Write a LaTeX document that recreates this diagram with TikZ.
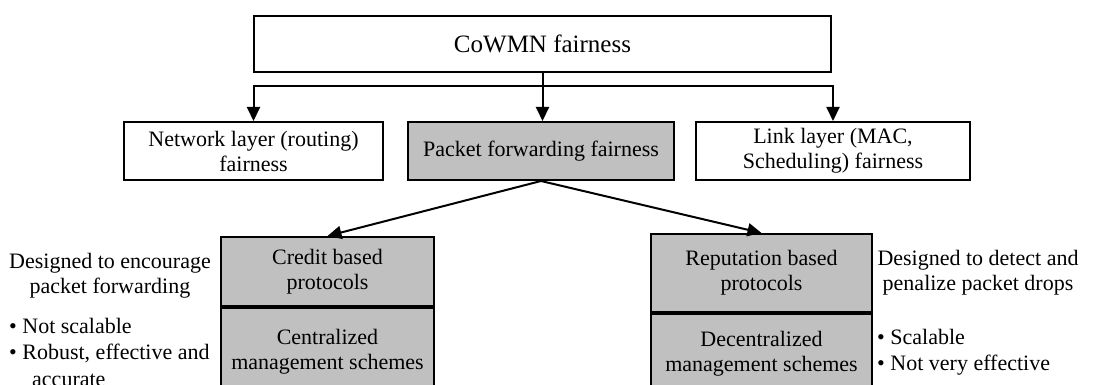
\documentclass[tikz,border=0pt]{standalone}
\usepackage{fontspec}
\setmainfont{Liberation Serif}
\usetikzlibrary{arrows.meta}
\definecolor{boxgray}{HTML}{C0C0C0}
\begin{document}
\begin{tikzpicture}[x=1pt,y=-1pt,
  box/.style={draw=black, line width=2pt, align=center, inner sep=0pt, font=\fontsize{22}{25}\selectfont},
  gbox/.style={box, fill=boxgray},
  note/.style={align=center, inner sep=0pt, font=\fontsize{22}{25}\selectfont},
  conn/.style={line width=2pt},
  arr/.style={conn, -{Triangle[length=14pt,width=13pt]}},
]
\useasboundingbox (0,0) rectangle (1094,385);

\node[box, minimum width=577pt, minimum height=56pt, font=\fontsize{25}{30}\selectfont] (top) at (542.5,44) {CoWMN fairness};
\node[box, minimum width=259pt, minimum height=58pt] (net) at (253.5,151) {Network layer (routing)\\fairness};
\node[gbox, minimum width=266pt, minimum height=58pt] (pkt) at (541,151) {Packet forwarding fairness};
\node[box, minimum width=274pt, minimum height=58pt] (link) at (833,151) {Link layer (MAC,\\Scheduling) fairness};

\node[gbox, minimum width=213pt, minimum height=69pt, anchor=north] (credit) at (327.5,236) {Credit based\\protocols};
\node[gbox, minimum width=213pt, minimum height=87pt, anchor=north] (central) at (credit.south) {Centralized\\management schemes};
\node[gbox, minimum width=221pt, minimum height=78pt, anchor=north] (rep) at (761.5,233) {Reputation based\\protocols};
\node[gbox, minimum width=221pt, minimum height=80pt, anchor=north] (decent) at (rep.south) {Decentralized\\management schemes};

\coordinate (bus) at (542.5,86);
\draw[arr] (top.south) -- (top.south |- pkt.north);
\draw[arr] (bus) -| (net.north);
\draw[arr] (bus) -| (link.north);
\draw[arr] (pkt.south) -- (credit.north);
\draw[arr] (pkt.south) -- (rep.north);

\node[note] (enc) at (110,275.5) {Designed to encourage\\packet forwarding};
\node[note, align=left, anchor=west, font=\fontsize{22}{26.5}\selectfont] (cons) at (9,352) {•~Not scalable\\•~Robust, effective and\\\hspace*{23pt}accurate};
\node[note] (det) at (978,272.5) {Designed to detect and\\penalize packet drops};
\node[note, align=left, anchor=west, font=\fontsize{22}{26.5}\selectfont] (pros) at (877,352) {•~Scalable\\•~Not very effective};
\end{tikzpicture}
\end{document}
